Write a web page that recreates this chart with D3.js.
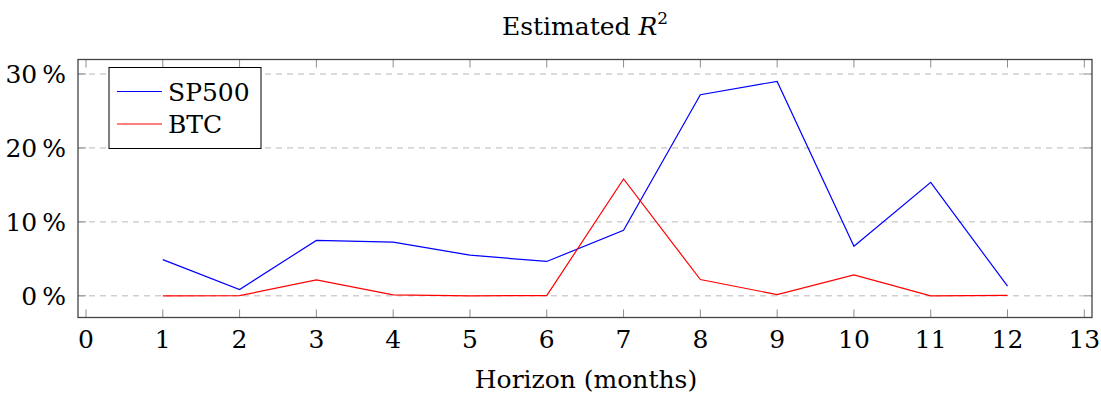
<!DOCTYPE html>
<html>
<head>
<meta charset="utf-8">
<script src="https://cdn.jsdelivr.net/npm/d3@7"></script>
<style>
  body { margin: 0; background: #fff; }
</style>
</head>
<body>
<div id="chart"></div>
<script>
// Data (R^2 in percent)
const horizons = [1, 2, 3, 4, 5, 6, 7, 8, 9, 10, 11, 12];
const sp500 = [4.9, 0.85, 7.5, 7.25, 5.5, 4.65, 8.85, 27.2, 29.0, 6.7, 15.35, 1.3];
const btc = [0.0, 0.02, 2.15, 0.13, 0.0, 0.03, 15.8, 2.2, 0.17, 2.84, 0.0, 0.05];
const xTicks = [0, 1, 2, 3, 4, 5, 6, 7, 8, 9, 10, 11, 12, 13];
const yTicks = [0, 10, 20, 30];
const seriesNames = ["SP500", "BTC"];

let width = 1101,
    height = 393;
let margin = { left: 78, right: 9, top: 59.5, bottom: 75.5 };
let fontSize = 25;

let svg = d3.select("#chart")
    .append("svg")
    .attr("width", width)
    .attr("height", height)
    .attr("font-family", "'DejaVu Serif', serif")
    .style("display", "block");

let x = d3.scaleLinear()
    .domain([-0.104, 13.1])
    .range([margin.left, width - margin.right]);

let y = d3.scaleLinear()
    .domain([-2.93, 31.96])
    .range([height - margin.bottom, margin.top]);

let x0 = x.range()[0], x1 = x.range()[1];
let y0 = y.range()[0], y1 = y.range()[1];

// dashed grid lines
svg.append("g")
    .selectAll("line")
    .data(yTicks)
    .join("line")
    .attr("x1", x0).attr("x2", x1)
    .attr("y1", d => y(d)).attr("y2", d => y(d))
    .attr("stroke", "#b8b8b8")
    .attr("stroke-width", 1)
    .attr("stroke-dasharray", "6,5");

// inner ticks (bottom/top and left/right)
let tickLen = 8;
let ticks = svg.append("g").attr("stroke", "#8c8c8c").attr("stroke-width", 1);
ticks.selectAll(".xb").data(xTicks).join("line")
    .attr("x1", d => x(d)).attr("x2", d => x(d))
    .attr("y1", y0).attr("y2", y0 - tickLen);
ticks.selectAll(".xt").data(xTicks).join("line")
    .attr("x1", d => x(d)).attr("x2", d => x(d))
    .attr("y1", y1).attr("y2", y1 + tickLen);
ticks.selectAll(".yl").data(yTicks).join("line")
    .attr("x1", x0).attr("x2", x0 + tickLen)
    .attr("y1", d => y(d)).attr("y2", d => y(d));
ticks.selectAll(".yr").data(yTicks).join("line")
    .attr("x1", x1).attr("x2", x1 - tickLen)
    .attr("y1", d => y(d)).attr("y2", d => y(d));

// series lines
let line = d3.line()
    .x((d, i) => x(horizons[i]))
    .y(d => y(d));

let colors = { SP500: "#0000ff", BTC: "#ff0000" };

svg.append("path")
    .datum(sp500)
    .attr("d", line)
    .attr("fill", "none")
    .attr("stroke", colors.SP500)
    .attr("stroke-width", 1.2);

svg.append("path")
    .datum(btc)
    .attr("d", line)
    .attr("fill", "none")
    .attr("stroke", colors.BTC)
    .attr("stroke-width", 1.2);

// axis box
svg.append("rect")
    .attr("x", x0).attr("y", y1)
    .attr("width", x1 - x0).attr("height", y0 - y1)
    .attr("fill", "none")
    .attr("stroke", "#444")
    .attr("stroke-width", 1.3);

// tick labels
svg.append("g")
    .selectAll("text")
    .data(xTicks)
    .join("text")
    .attr("x", d => x(d))
    .attr("y", 348)
    .attr("text-anchor", "middle")
    .attr("font-size", fontSize + "px")
    .text(d => d);

svg.append("g")
    .selectAll("text")
    .data(yTicks)
    .join("text")
    .attr("x", 66)
    .attr("y", d => y(d) + 9)
    .attr("text-anchor", "end")
    .attr("font-size", fontSize + "px")
    .call(t => t.append("tspan").text(d => d))
    .call(t => t.append("tspan").attr("dx", 5).text("%"));

// title
let title = svg.append("text")
    .attr("x", 585)
    .attr("y", 35)
    .attr("text-anchor", "middle")
    .attr("font-size", fontSize + "px");
title.append("tspan").text("Estimated ");
title.append("tspan").attr("font-style", "italic").text("R");
title.append("tspan").attr("font-size", "17px").attr("dy", -11).text("2");

// x axis label
svg.append("text")
    .attr("x", 586)
    .attr("y", 388)
    .attr("text-anchor", "middle")
    .attr("font-size", fontSize + "px")
    .text("Horizon (months)");

// legend
let legend = svg.append("g");
legend.append("rect")
    .attr("x", 109).attr("y", 67.5)
    .attr("width", 152).attr("height", 81)
    .attr("fill", "#fff")
    .attr("stroke", "#000")
    .attr("stroke-width", 1);

seriesNames.forEach((name, i) => {
    let cy = 91.5 + i * 32.5;
    legend.append("line")
        .attr("x1", 117).attr("x2", 162)
        .attr("y1", cy).attr("y2", cy)
        .attr("stroke", colors[name])
        .attr("stroke-width", 1.2);
    legend.append("text")
        .attr("x", 168)
        .attr("y", cy + 9)
        .attr("font-size", fontSize + "px")
        .text(name);
});
</script>
</body>
</html>
